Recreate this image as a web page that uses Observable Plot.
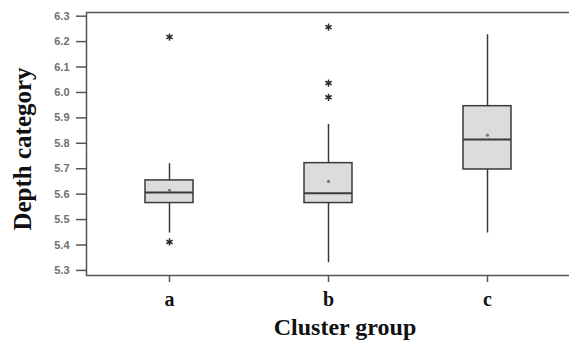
<!DOCTYPE html>
<html>
<head>
<meta charset="utf-8">
<script src="https://cdn.jsdelivr.net/npm/d3@7"></script>
<script src="https://cdn.jsdelivr.net/npm/@observablehq/plot@0.6"></script>
<style>
  html, body { margin: 0; padding: 0; background: #fff; }
  #chart svg { display: block; }
</style>
</head>
<body>
<div id="chart"></div>
<script>
// Summary statistics
const groups      = ["a", "b", "c"];
const whiskerLow  = [5.447, 5.330, 5.447];
const q1          = [5.565, 5.565, 5.697];
const median      = [5.606, 5.604, 5.815];
const q3          = [5.654, 5.722, 5.946];
const whiskerHigh = [5.720, 5.874, 6.227];
const means       = [5.615, 5.650, 5.832];
const outlierGroup = ["a", "a", "b", "b", "b"];
const outlierValue = [6.218, 5.412, 6.257, 6.037, 5.981];
const yTicks = [5.3, 5.4, 5.5, 5.6, 5.7, 5.8, 5.9, 6.0, 6.1, 6.2, 6.3];
const xTitle = "Cluster group";
const yTitle = "Depth category";

const boxes = groups.map((g, i) => ({
  group: g, lo: whiskerLow[i], q1: q1[i], med: median[i], q3: q3[i], hi: whiskerHigh[i], mean: means[i]
}));
const outliers = outlierGroup.map((g, i) => ({group: g, value: outlierValue[i]}));

const ink = "#3a3a3a";
const serif = "Liberation Serif, Times New Roman, serif";

const chart = Plot.plot({
  width: 569,
  height: 347,
  marginLeft: 86,
  marginRight: -2,
  marginTop: 12,
  marginBottom: 72,
  style: {background: "#fff", overflow: "visible"},
  x: {domain: groups, paddingInner: 0.697, paddingOuter: 0.372, label: null},
  y: {domain: [5.28, 6.3145], label: null},
  marks: [
    Plot.frame({stroke: "#555", strokeWidth: 1.5}),
    // whiskers
    Plot.ruleX(boxes, {x: "group", y1: "lo", y2: "q1", stroke: ink, strokeWidth: 1.5}),
    Plot.ruleX(boxes, {x: "group", y1: "q3", y2: "hi", stroke: ink, strokeWidth: 1.5}),
    // boxes
    Plot.barY(boxes, {x: "group", y1: "q1", y2: "q3", fill: "#dcdcdc", stroke: ink, strokeWidth: 1.5}),
    // medians
    Plot.tickY(boxes, {x: "group", y: "med", stroke: ink, strokeWidth: 2}),
    // means
    Plot.dot(boxes, {x: "group", y: "mean", r: 1.6, fill: "#777", stroke: null}),
    // outliers
    Plot.dot(outliers, {x: "group", y: "value", symbol: "asterisk", r: 3.4, stroke: "#2a2a2a", strokeWidth: 1.5}),
    // axes
    Plot.axisY({ticks: yTicks, tickFormat: d3.format(".1f"), tickSize: 10, tickPadding: 7,
      stroke: "#555", strokeWidth: 1.5, fill: "#707070", fontSize: 11, fontWeight: "bold",
      fontFamily: "Liberation Sans, Arial, sans-serif", label: null}),
    Plot.axisX({tickSize: 7, tickPadding: 9, stroke: "#555", strokeWidth: 1.5,
      fill: "#111", fontSize: 20, fontWeight: "bold", fontFamily: serif, label: null}),
    Plot.text([xTitle], {frameAnchor: "bottom", dx: 16, dy: 59, text: d => d,
      fontSize: 24, fontWeight: "bold", fontFamily: serif, fill: "#111"}),
    Plot.text([yTitle], {frameAnchor: "left", textAnchor: "middle", dx: -64, dy: 5, rotate: -90, text: d => d,
      fontSize: 25, fontWeight: "bold", fontFamily: serif, fill: "#111"})
  ]
});
document.getElementById("chart").appendChild(chart);
</script>
</body>
</html>
